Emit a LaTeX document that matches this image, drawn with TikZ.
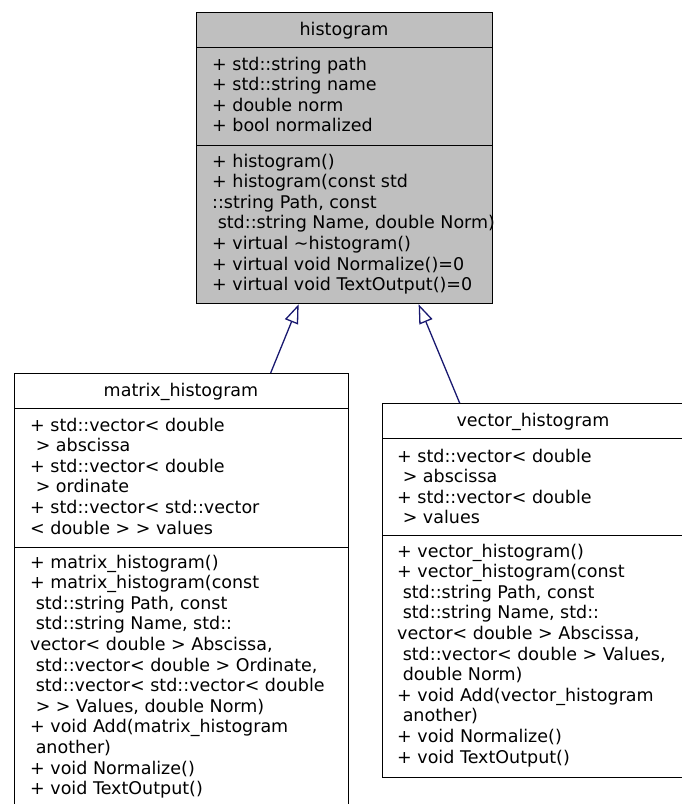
\documentclass[tikz,border=0pt]{standalone}
\usepackage{fontspec}
\setmainfont{DejaVu Sans}
\usetikzlibrary{arrows.meta}
\definecolor{edgeblue}{HTML}{191970}
\definecolor{basegray}{HTML}{BFBFBF}
\newcommand{\umltext}{\fontsize{17.5}{20.6}\selectfont}
\newcommand{\members}[1]{\parbox[t]{330pt}{\raggedright #1}}
\tikzset{
  compart/.style={draw=black, line width=1.3pt, rectangle, inner sep=0pt, anchor=north west},
  basecls/.style={compart, fill=basegray},
  memberlist/.style={anchor=base west, inner sep=0pt, font=\umltext},
  classname/.style={anchor=base, inner sep=0pt, font=\umltext},
  inherit/.style={draw=edgeblue, line width=1.3pt, -{Triangle[open, length=19pt, width=14pt]}}
}
\begin{document}
\begin{tikzpicture}[x=1pt, y=-1pt]
\useasboundingbox (0,0) rectangle (682,804);

% base class: histogram
\node[basecls, minimum width=296pt, minimum height=35pt]  (ht) at (196,12) {};
\node[basecls, minimum width=296pt, minimum height=98pt]  (ha) at (196,47) {};
\node[basecls, minimum width=296pt, minimum height=158pt] (hm) at (196,145) {};
\node[classname] (htl) at (344,35) {histogram};
\node[memberlist] (hal) at (212,70) {\members{+ std::string path\\
+ std::string name\\
+ double norm\\
+ bool normalized}};
\node[memberlist] (hml) at (212,167) {\members{+ histogram()\\
+ histogram(const std\\
::string Path, const\\
\ std::string Name, double Norm)\\
+ virtual \textasciitilde histogram()\\
+ virtual void Normalize()=0\\
+ virtual void TextOutput()=0}};

% derived class: matrix_histogram
\node[compart, minimum width=334pt, minimum height=35pt]  (mt) at (14,373) {};
\node[compart, minimum width=334pt, minimum height=139pt] (ma) at (14,408) {};
\node[compart, minimum width=334pt, minimum height=270pt] (mm) at (14,547) {};
\node[classname] (mtl) at (181,396) {matrix\_histogram};
\node[memberlist] (mal) at (30,431) {\members{+ std::vector< double\\
\ > abscissa\\
+ std::vector< double\\
\ > ordinate\\
+ std::vector< std::vector\\
< double > > values}};
\node[memberlist] (mml) at (30,568) {\members{+ matrix\_histogram()\\
+ matrix\_histogram(const\\
\ std::string Path, const\\
\ std::string Name, std::\\
vector< double > Abscissa,\\
\ std::vector< double > Ordinate,\\
\ std::vector< std::vector< double\\
\ > > Values, double Norm)\\
+ void Add(matrix\_histogram\\
\ another)\\
+ void Normalize()\\
+ void TextOutput()}};

% derived class: vector_histogram
\node[compart, minimum width=304pt, minimum height=35pt]  (vt) at (382,403) {};
\node[compart, minimum width=304pt, minimum height=97pt]  (va) at (382,438) {};
\node[compart, minimum width=304pt, minimum height=242pt] (vm) at (382,535) {};
\node[classname] (vtl) at (533,426) {vector\_histogram};
\node[memberlist] (val) at (397,462) {\members{+ std::vector< double\\
\ > abscissa\\
+ std::vector< double\\
\ > values}};
\node[memberlist] (vml) at (397,557) {\members{+ vector\_histogram()\\
+ vector\_histogram(const\\
\ std::string Path, const\\
\ std::string Name, std::\\
vector< double > Abscissa,\\
\ std::vector< double > Values,\\
\ double Norm)\\
+ void Add(vector\_histogram\\
\ another)\\
+ void Normalize()\\
+ void TextOutput()}};

% generalisation arrows
\draw[inherit] ([xshift=89pt]mt.north) -- ([xshift=-46pt]hm.south);
\draw[inherit] ([xshift=-75pt]vt.north) -- ([xshift=74pt]hm.south);
\end{tikzpicture}
\end{document}
